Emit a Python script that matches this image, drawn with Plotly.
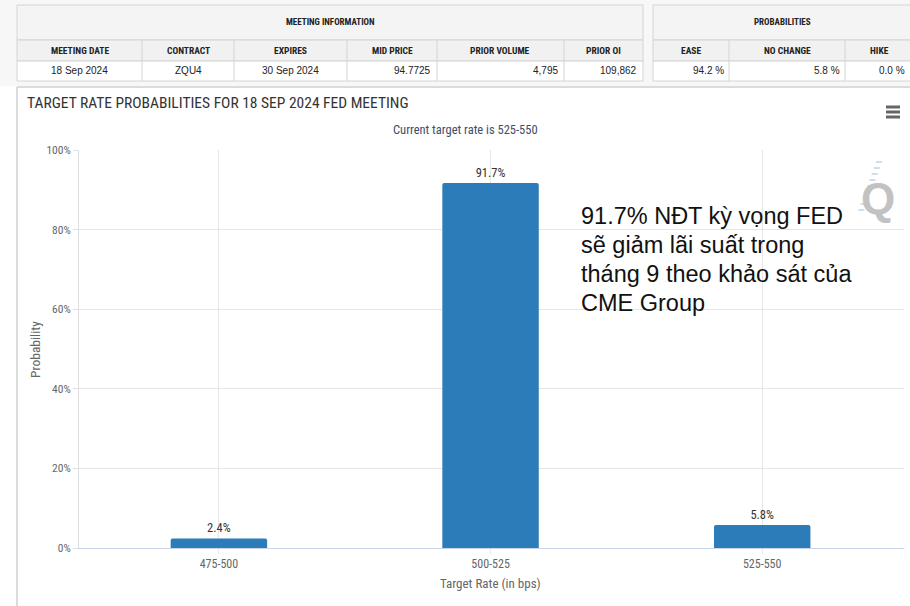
import plotly.graph_objects as go

# ---------------- data ----------------
categories = ["475-500", "500-525", "525-550"]
probabilities = [2.4, 91.7, 5.8]
y_ticks = [0, 20, 40, 60, 80, 100]
y_tick_labels = ["0%", "20%", "40%", "60%", "80%", "100%"]

meeting_headers = ["MEETING DATE", "CONTRACT", "EXPIRES", "MID PRICE", "PRIOR VOLUME", "PRIOR OI"]
meeting_values = ["18 Sep 2024", "ZQU4", "30 Sep 2024", "94.7725", "4,795", "109,862"]
prob_headers = ["EASE", "NO CHANGE", "HIKE"]
prob_values = ["94.2 %", "5.8 %", "0.0 %"]

title_text = "TARGET RATE PROBABILITIES FOR 18 SEP 2024 FED MEETING"
subtitle_text = "Current target rate is 525-550"
note_lines = ["91.7% NĐT kỳ vọng FED", "sẽ giảm lãi suất trong",
              "tháng 9 theo khảo sát của", "CME Group"]

# ---------------- geometry helpers ----------------
W, H = 910, 606
L, R, T, B = 79, 904, 150, 548


def px(X):
    return (X - L) / (R - L)


def py(Y):
    return (B - Y) / (B - T)


FONT = "Liberation Sans Narrow, Arial Narrow, Roboto Condensed, Liberation Sans, Arial, sans-serif"
TFONT = "Liberation Sans, Arial, sans-serif"
BORDER = "#d4d4d4"

fig = go.Figure()
fig.add_trace(go.Bar(
    x=categories, y=probabilities, width=0.355,
    marker=dict(color="#2b7cb8", line=dict(width=0)),
    texttemplate="%{y:.1f}%", textposition="outside",
    textfont=dict(family=FONT, size=12.5, color="#333333"),
    cliponaxis=False, hoverinfo="skip",
))

shapes = []
annotations = []


def rect(x0, y0, x1, y1, fill="rgba(0,0,0,0)", line=BORDER, lw=1):
    shapes.append(dict(type="rect", xref="paper", yref="paper",
                       x0=px(x0), x1=px(x1), y0=py(y1), y1=py(y0),
                       fillcolor=fill, line=dict(color=line, width=lw), layer="below"))


def line(x0, y0, x1, y1, color=BORDER, lw=1):
    shapes.append(dict(type="line", xref="paper", yref="paper",
                       x0=px(x0), x1=px(x1), y0=py(y0), y1=py(y1),
                       line=dict(color=color, width=lw), layer="below"))


def text(X, Y, s, size=10, color="#222", family=TFONT, xanchor="center", yanchor="middle", **kw):
    annotations.append(dict(xref="paper", yref="paper", x=px(X), y=py(Y), text=s,
                            showarrow=False, xanchor=xanchor, yanchor=yanchor,
                            font=dict(size=size, color=color, family=family), **kw))


# ---------------- top tables ----------------
rect(0, 0, 910, 86, fill="#f7f7f7", line="rgba(0,0,0,0)", lw=0)
# table 1
t1_cols = [17, 142, 234, 347, 437, 564, 643]
rect(17, 5, 643, 40, fill="#f4f4f4")
rect(17, 40, 643, 61, fill="#f1f1f1")
rect(17, 61, 643, 81, fill="#ffffff")
for xc in t1_cols[1:-1]:
    line(xc, 40, xc, 81)
text((17 + 643) / 2, 22, "<b>MEETING INFORMATION</b>", size=9, family=FONT)
for i, h in enumerate(meeting_headers):
    a, b = t1_cols[i], t1_cols[i + 1]
    text((a + b) / 2, 50.5, "<b>" + h + "</b>", size=9.5, family=FONT)
for i, v in enumerate(meeting_values):
    a, b = t1_cols[i], t1_cols[i + 1]
    if i < 3:
        text((a + b) / 2, 71, v, size=10)
    else:
        text(b - 4, 71, v, size=10, xanchor="right")
# table 2
t2_cols = [653, 729, 845, 915]
rect(653, 5, 915, 40, fill="#f4f4f4")
rect(653, 40, 915, 61, fill="#f1f1f1")
rect(653, 61, 915, 81, fill="#ffffff")
for xc in t2_cols[1:-1]:
    line(xc, 40, xc, 81)
text(782, 22, "<b>PROBABILITIES</b>", size=9, family=FONT)
for i, h in enumerate(prob_headers):
    a, b = t2_cols[i], t2_cols[i + 1]
    c = (a + b) / 2 if i < 2 else 879
    text(c, 50.5, "<b>" + h + "</b>", size=9.5, family=FONT)
for i, v in enumerate(prob_values):
    b = t2_cols[i + 1] if i < 2 else 910
    text(b - 3, 71, v, size=10, xanchor="right")

# ---------------- chart panel ----------------
line(17, 87, 910, 87, color="#cfcfcf", lw=1.5)
line(17, 87, 17, 606, color="#cfcfcf", lw=1.5)

text(25, 103, title_text, size=15.5, color="#333333", family=FONT, xanchor="left")
text(465, 129, subtitle_text, size=12.5, color="#3d4d6a", family=FONT)

# hamburger menu
for yy in (107, 112, 117):
    line(886, yy, 900, yy, color="#666666", lw=3)

# watermark Q
text(878, 198, "<b>Q</b>", size=44, color="#c2c2c2", family=TFONT)
for k in range(9):
    yy = 162 + k * 6
    xx = 882 - k * 2.2
    line(xx - 6, yy, xx, yy, color="#b8d6ee", lw=1.5)

# axis titles
text(35, 350, "Probability", size=13.5, color="#666666", family=FONT, textangle=-90)
text(490, 583, "Target Rate (in bps)", size=13, color="#666666", family=FONT)

# note
for i, s in enumerate(note_lines):
    text(579, 216 + i * 29, s, size=23.5, color="#111111", family=TFONT, xanchor="left")

fig.update_layout(
    width=W, height=H,
    margin=dict(l=L, r=W - R, t=T, b=H - B, pad=0),
    paper_bgcolor="#ffffff", plot_bgcolor="#ffffff",
    showlegend=False,
    barcornerradius=2,
    shapes=shapes, annotations=annotations,
    xaxis=dict(type="category", range=[-0.515, 2.522], showgrid=True, gridcolor="#e6e6e6",
               showline=True, linecolor="#ccd6eb", linewidth=1,
               ticks="outside", ticklen=5, tickcolor="#e6e6e6",
               tickfont=dict(family=FONT, size=12, color="#666666"), fixedrange=True),
    yaxis=dict(range=[0, 100], tickvals=y_ticks, ticktext=y_tick_labels,
               showgrid=True, gridcolor="#e6e6e6", zeroline=False,
               showline=True, linecolor="#e0e0e0", linewidth=1,
               ticks="outside", ticklen=5, tickcolor="#e0e0e0",
               tickfont=dict(family=FONT, size=11.5, color="#666666"), fixedrange=True),
)

fig.write_html("out.html", config={"displayModeBar": False})
